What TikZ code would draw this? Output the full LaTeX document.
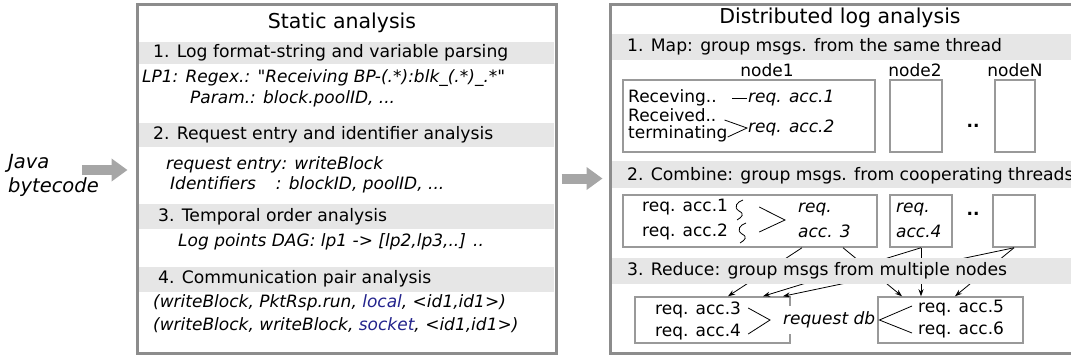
\documentclass[tikz,border=0pt]{standalone}
\usepackage{fontspec}
\setmainfont{DejaVu Sans}
\usetikzlibrary{arrows.meta}

\definecolor{bandgray}{RGB}{230,230,230}
\definecolor{linkblue}{RGB}{35,35,140}

\tikzset{
	panel/.style={draw=black!45, line width=3pt, inner sep=0pt},
	band/.style={fill=bandgray},
	title/.style={font=\fontsize{20.5}{24}\selectfont, inner sep=0pt},
	head/.style={anchor=west, inner sep=0pt, font=\fontsize{17.2}{20}\selectfont},
	plain/.style={anchor=west, inner sep=0pt, align=left, font=\fontsize{17}{22}\selectfont},
	body/.style={plain, font=\fontsize{17}{25}\selectfont\itshape},
	cell/.style={draw=black!40, line width=1.5pt, inner sep=0pt},
	link/.style={-{Stealth[length=7pt,width=5pt]}, line width=0.8pt},
	bigarrow/.style={line width=10pt, black!35, -{Triangle[length=16pt,width=22pt]}}
}

\begin{document}
\begin{tikzpicture}[x=1pt, y=-1pt]
			
			\useasboundingbox (0,0) rectangle (1071,357);
			\clip (0,0) rectangle (1071,357);
			
			% Input
			\node[body, font=\fontsize{19.5}{24}\selectfont\itshape] (java) at (8,175) {Java\\bytecode};
			
			% Static analysis panel
			\node[panel, minimum width=419pt, minimum height=349pt] (static) at (346.5,178.5) {};
			\node[title] (sttl) at (342,23) {Static analysis};
			
			\fill[band] (139,42) rectangle (554,64);
			\node[head] (fmt) at (153,53) {1. Log format-string and variable parsing};
			\node[body] (lp1) at (142,78) {LP1: Regex.: \textquotedbl Receiving BP-(.*):blk\_(.*)\_.*\textquotedbl};
			\node[body] (par) at (190,99) {Param.: block.poolID, ...};
			
			\fill[band] (139,123) rectangle (554,147);
			\node[head] (req) at (153,135) {2. Request entry and identifier analysis};
			\node[body] (ent) at (166,165) {request entry: writeBlock};
			\node[body] (ids) at (170,185) {Identifiers\hspace{20pt}: blockID, poolID, ...};
			
			\fill[band] (139,204) rectangle (554,229);
			\node[head] (tmp) at (158,217) {3. Temporal order analysis};
			\node[body] (dag) at (178,242) {Log points DAG: lp1 -> [lp2,lp3,..] ..};
			
			\fill[band] (139,267) rectangle (554,292);
			\node[head] (com) at (158,279) {4. Communication pair analysis};
			\node[body] (cp1) at (153,303) {(writeBlock, PktRsp.run, \textcolor{linkblue}{local}, <id1,id1>)};
			\node[body] (cp2) at (153,325) {(writeBlock, writeBlock, \textcolor{linkblue}{socket}, <id1,id1>)};
			
			% Distributed log analysis panel
			\node[panel, minimum width=464pt, minimum height=349pt] (distrib) at (842,178.5) {};
			\node[title] (dttl) at (840,18) {Distributed log analysis};
			
			% Map
			\fill[band] (612,34) rectangle (1071,60);
			\node[head] (map) at (627,47) {1. Map: group msgs. from the same thread};
			\node[plain, anchor=center] (lbl1) at (767,70) {node1};
			\node[plain, anchor=center] (lbl2) at (915,70) {node2};
			\node[plain, anchor=center] (lblN) at (1015,70) {nodeN};
			\node[cell, minimum width=252pt, minimum height=72pt] (mb1) at (749,116) {};
			\node[cell, minimum width=52pt, minimum height=72pt] (mb2) at (916,116) {};
			\node[cell, minimum width=40pt, minimum height=72pt] (mbN) at (1015,116) {};
			\node[plain, anchor=center] (mdots) at (973,126) {\textbf{..}};
			
			\node[plain] (rcv) at (628,98) {Receving..};
			\node[plain] (rcvd) at (628,115) {Received..};
			\node[plain] (term) at (628,134) {terminating};
			\node[body] (acc1) at (748,98) {req. acc.1};
			\node[body] (acc2) at (748,128) {req. acc.2};
			\draw[line width=0.8pt, shorten <=15pt, shorten >=1pt] (rcv) -- (acc1);
			\draw[line width=0.8pt] ([xshift=8pt,yshift=-5pt]rcvd.east) -- ([xshift=-1pt]acc2.west) -- ([yshift=-3pt]term.east);
			
			% Combine
			\fill[band] (612,161) rectangle (1071,188);
			\node[head] (comb) at (627,176) {2. Combine: group msgs. from cooperating threads};
			\node[cell, minimum width=254pt, minimum height=52pt] (cb1) at (750,221) {};
			\node[cell, minimum width=62pt, minimum height=52pt] (cb2) at (921,221) {};
			\node[cell, minimum width=42pt, minimum height=52pt] (cb3) at (1014,221) {};
			\node[plain, anchor=center] (cdots) at (973,214) {\textbf{..}};
			
			\node[plain] (ra1) at (642,207) {req. acc.1};
			\node[plain] (ra2) at (642,232) {req. acc.2};
			\node[body] (acc3) at (798,220) {req.\\acc. 3};
			\node[body] (acc4) at (896,220) {req.\\acc.4};
			\draw[line width=0.8pt] (743,200) .. controls (737,202) and (733,207) .. (739,211) .. controls (745,214) and (742,217) .. (737,220);
			\draw[line width=0.8pt] (746,223) .. controls (740,225) and (736,230) .. (742,234) .. controls (748,237) and (745,240) .. (740,243);
			\draw[line width=0.8pt] ([xshift=31pt]ra1.east) -- ([xshift=-13pt]acc3.west) -- ([xshift=31pt]ra2.east);
			
			% Reduce
			\node[cell, minimum width=155pt, minimum height=46pt] (rb1) at (712.5,320) {};
			\node[cell, minimum width=145pt, minimum height=46pt] (rb2) at (950.5,320) {};
			
			\draw[link] ([xshift=52pt]cb1.south) -- ([xshift=15.5pt]rb1.north);
			\draw[link] ([xshift=93pt]cb1.south) -- ([xshift=-48.5pt]rb2.north);
			\draw[link] (cb2.south) -- ([xshift=50.5pt]rb1.north);
			\draw[link] (cb2.south) -- ([xshift=-29.5pt]rb2.north);
			\draw[link] (cb3.south) -- ([xshift=70.5pt]rb1.north);
			\draw[link] (cb3.south) -- ([xshift=4.5pt]rb2.north);
			
			\fill[band] (612,258) rectangle (1071,284);
			\node[head] (red) at (627,271) {3. Reduce: group msgs from multiple nodes};
			
			\node[plain] (ra34) at (655,321) {req. acc.3\\req. acc.4};
			\node[body, fill=white, inner xsep=2pt, inner ysep=6pt] (rdb) at (781,320) {request db};
			\node[plain] (ra56) at (918,319) {req. acc.5\\req. acc.6};
			\draw[line width=0.8pt] ([xshift=7pt,yshift=13pt]ra34.east) -- ([xshift=-11pt]rdb.west) -- ([xshift=7pt,yshift=-13pt]ra34.east);
			\draw[line width=0.8pt] ([xshift=-6pt,yshift=13pt]ra56.west) -- ([xshift=2pt]rdb.east) -- ([xshift=-6pt,yshift=-14pt]ra56.west);
			
			% Flow between the stages
			\draw[bigarrow] ([xshift=-17pt,yshift=5pt]java.east) -- ([xshift=-8pt,yshift=8.5pt]static.west);
			\draw[bigarrow] ([xshift=4pt]static.east) -- ([xshift=-6pt]distrib.west);
			
\end{tikzpicture}
\end{document}
